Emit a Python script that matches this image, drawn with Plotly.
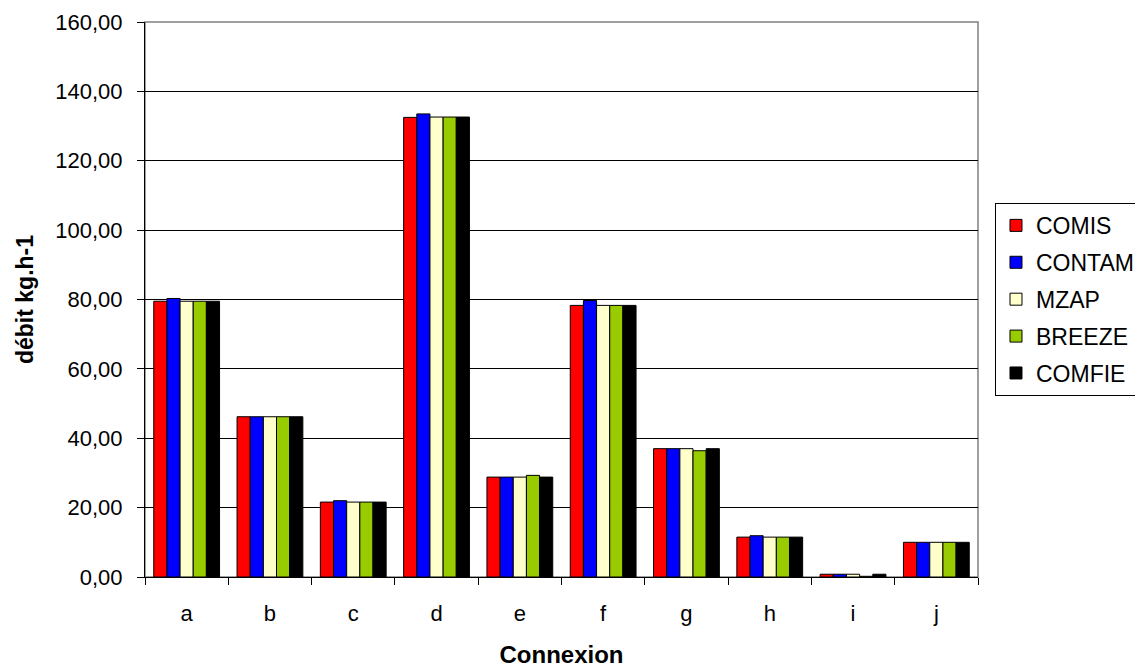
import plotly.graph_objects as go

categories = ["a", "b", "c", "d", "e", "f", "g", "h", "i", "j"]
series_names = ["COMIS", "CONTAM", "MZAP", "BREEZE", "COMFIE"]
comis  = [79.5, 46.2, 21.6, 132.5, 28.8, 78.3, 37.0, 11.5, 0.8, 10.0]
contam = [80.3, 46.2, 22.0, 133.5, 28.8, 79.7, 37.0, 11.9, 0.8, 10.0]
mzap   = [79.5, 46.2, 21.6, 132.6, 28.8, 78.3, 37.0, 11.5, 0.8, 10.0]
breeze = [79.5, 46.2, 21.6, 132.6, 29.3, 78.3, 36.4, 11.5, 0.2, 10.0]
comfie = [79.5, 46.2, 21.6, 132.6, 28.8, 78.3, 37.0, 11.5, 0.8, 10.0]
values = [comis, contam, mzap, breeze, comfie]
colors = ["#FF0000", "#0000FF", "#FFFFCC", "#99CC00", "#000000"]

font = "Liberation Sans, Arial, sans-serif"
fig = go.Figure()
for name, vals, col in zip(series_names, values, colors):
    fig.add_trace(go.Bar(
        x=categories, y=vals, name=name, legendgroup=name,
        marker=dict(color=col, line=dict(color="#000000", width=1)),
    ))

# gray plot-area border (top and right in reference)
fig.add_shape(type="rect", xref="paper", yref="paper", x0=0, y0=0, x1=1, y1=1,
              line=dict(color="#808080", width=1.5), layer="below")

fig.update_layout(
    width=1135, height=668,
    margin=dict(l=145, r=157, t=22, b=91, autoexpand=False),
    paper_bgcolor="white", plot_bgcolor="white",
    barmode="group", bargap=0.21, bargroupgap=0,
    separators=", ",
    font=dict(family=font, size=22, color="black"),
    legend=dict(
        x=1.0204, y=0.674, xanchor="left", yanchor="top",
        bordercolor="#000000", borderwidth=1,
        font=dict(family=font, size=23, color="black"),
        traceorder="grouped", tracegroupgap=4,
        itemwidth=30,
    ),
    xaxis=dict(
        title=dict(text="<b>Connexion</b>", font=dict(family=font, size=24), standoff=27),
        showline=True, linecolor="#000000", linewidth=1, automargin=False,
        ticks="outside", tickson="boundaries", ticklen=7, tickcolor="#000000",
        tickfont=dict(family=font, size=22), ticklabelstandoff=17,
    ),
    yaxis=dict(
        title=dict(text="<b>débit kg.h-1</b>", font=dict(family=font, size=23), standoff=15),
        range=[0, 160], dtick=20, tickformat=".2f", automargin=False,
        showline=True, linecolor="#000000", linewidth=1,
        showgrid=True, gridcolor="#000000", gridwidth=1,
        ticks="outside", ticklen=7, tickcolor="#000000",
        tickfont=dict(family=font, size=22), ticklabelstandoff=10,
        zeroline=False,
    ),
)
fig.write_html("out.html", config={"displayModeBar": False},
               post_script="document.body.style.margin='0';document.body.style.overflow='hidden';")
